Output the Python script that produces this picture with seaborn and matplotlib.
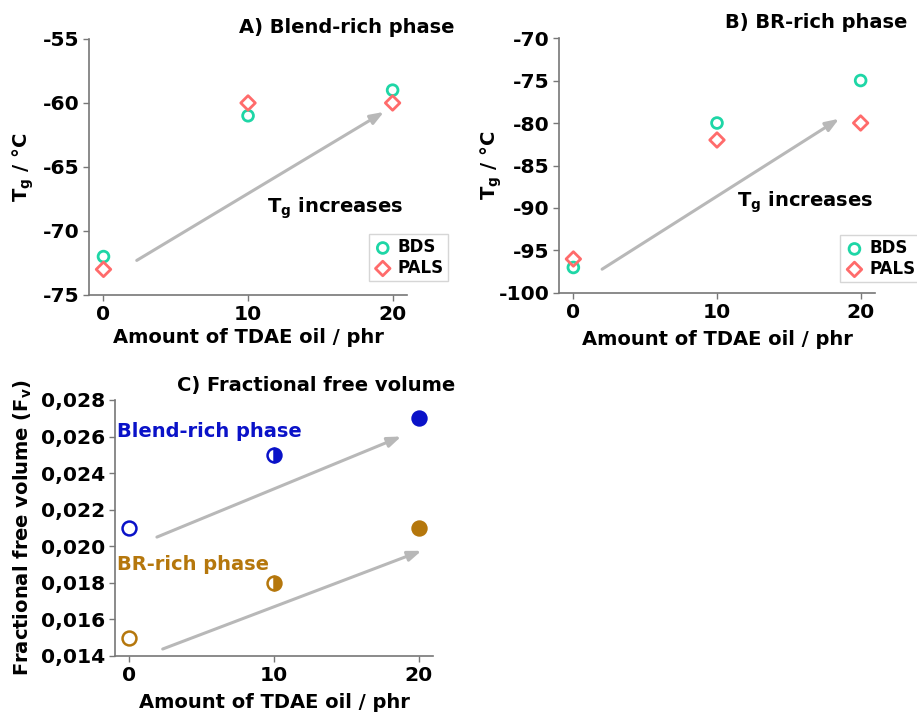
import numpy as np
import pandas as pd
import matplotlib
matplotlib.use("Agg")
import matplotlib.pyplot as plt
from matplotlib.ticker import FuncFormatter
import seaborn as sns

# ---- data -------------------------------------------------------------
oil_phr = [0, 10, 20]

# Tg of the blend-rich phase (deg C)
tg_blend_bds = [-72, -61, -59]
tg_blend_pals = [-73, -60, -60]

# Tg of the BR-rich phase (deg C)
tg_br_bds = [-97, -80, -75]
tg_br_pals = [-96, -82, -80]

# Fractional free volume
ffv_blend = [0.021, 0.025, 0.027]
ffv_br = [0.015, 0.018, 0.021]
ffv_fill = ["none", "right", "full"]

# trend arrows (tail -> head, data coordinates)
arrow_a = [(2.3, -72.3), (19.4, -60.7)]
arrow_b = [(2.0, -97.2), (18.5, -79.5)]
arrow_c_blend = [(1.9, 0.0205), (18.8, 0.0260)]
arrow_c_br = [(2.3, 0.01438), (20.2, 0.01975)]

# ---- style ------------------------------------------------------------
sns.set_style("ticks")
plt.rcParams["font.family"] = ["DejaVu Sans"]
plt.rcParams["font.weight"] = "bold"
plt.rcParams["axes.labelweight"] = "bold"
plt.rcParams["axes.unicode_minus"] = False
plt.rcParams["text.color"] = "black"
plt.rcParams["axes.labelcolor"] = "black"
plt.rcParams["xtick.labelcolor"] = "black"
plt.rcParams["ytick.labelcolor"] = "black"
plt.rcParams["mathtext.fontset"] = "custom"
plt.rcParams["mathtext.bf"] = "DejaVu Sans:bold"
plt.rcParams["mathtext.rm"] = "DejaVu Sans:bold"

C_BDS = "#1ed6a6"
C_PALS = "#ff6b6b"
C_BLUE = "#0a12c8"
C_BROWN = "#b5770c"
C_SPINE = "#777777"
C_ARROW = "#b8b8b8"
TICK_FS = 14.6
LABEL_FS = 14

fig = plt.figure(figsize=(9.17, 7.12), dpi=100)
ax_a = fig.add_axes([0.0971, 0.5857, 0.3468, 0.3596])
ax_b = fig.add_axes([0.6096, 0.5885, 0.3446, 0.3581])
ax_c = fig.add_axes([0.1254, 0.0787, 0.3468, 0.3596])


def style_axes(ax):
    sns.despine(ax=ax)
    for side in ("left", "bottom"):
        ax.spines[side].set_color(C_SPINE)
        ax.spines[side].set_linewidth(1.2)
    ax.tick_params(axis="both", direction="out", length=4, width=1,
                   color=C_SPINE, labelcolor="black", labelsize=TICK_FS, pad=3)
    for lab in ax.get_xticklabels() + ax.get_yticklabels():
        lab.set_fontweight("bold")
    ax.set_xlim(-1, 21)
    ax.set_xticks(oil_phr)


def arrow(ax, pts):
    ax.annotate("", xy=pts[1], xytext=pts[0],
                arrowprops=dict(arrowstyle="-|>,head_length=0.8,head_width=0.3",
                                color=C_ARROW, lw=2.2, shrinkA=0, shrinkB=0))


def tg_panel(ax, bds, pals, ylim, yticks, title, title_xy, legend_xy, ylab_y):
    df = pd.DataFrame({"oil": oil_phr * 2, "tg": bds + pals,
                       "method": ["BDS"] * 3 + ["PALS"] * 3})
    for method, marker, color, size in (("BDS", "o", C_BDS, 60),
                                        ("PALS", "D", C_PALS, 55)):
        sub = df[df["method"] == method]
        sns.scatterplot(data=sub, x="oil", y="tg", ax=ax, marker=marker,
                        s=size, facecolor="none", edgecolor=color,
                        color=color, linewidth=2.0, label=method, zorder=3)
    ax.set_ylim(*ylim)
    ax.set_yticks(yticks)
    style_axes(ax)
    ax.set_xlabel("Amount of TDAE oil / phr", fontsize=LABEL_FS,
                  fontweight="bold", va="center")
    ax.set_ylabel(r"T$_\mathbf{g}$ / °C", fontsize=LABEL_FS,
                  fontweight="bold", va="center")
    ax.yaxis.set_label_coords(ylab_y, 0.5)
    fig.text(title_xy[0], title_xy[1], title, ha="right", va="center",
             fontsize=LABEL_FS, fontweight="bold")
    leg = ax.legend(loc="lower right", bbox_to_anchor=legend_xy,
                    bbox_transform=fig.transFigure, borderaxespad=0,
                    frameon=True, fancybox=False, framealpha=1,
                    edgecolor="#d6d6d6", prop={"weight": "bold", "size": 12},
                    handletextpad=0.3, borderpad=0.25, labelspacing=0.15,
                    handlelength=1.2)
    leg.get_frame().set_linewidth(1.0)


tg_panel(ax_a, tg_blend_bds, tg_blend_pals, (-75, -55), [-75, -70, -65, -60, -55],
         "A) Blend-rich phase", (0.496, 0.962), (0.4886, 0.6053), -0.208)
ax_a.xaxis.set_label_coords(0.5, -0.168)
arrow(ax_a, arrow_a)
ax_a.text(11.3, -68.2, r"T$_\mathbf{g}$ increases", fontsize=LABEL_FS,
          fontweight="bold", va="center", ha="left")

tg_panel(ax_b, tg_br_bds, tg_br_pals, (-100, -70), [-100, -95, -90, -85, -80, -75, -70],
         "B) BR-rich phase", (0.990, 0.969), (1.003, 0.604), -0.215)
ax_b.xaxis.set_label_coords(0.5, -0.184)
arrow(ax_b, arrow_b)
ax_b.text(11.4, -89.3, r"T$_\mathbf{g}$ increases", fontsize=LABEL_FS,
          fontweight="bold", va="center", ha="left")

# ---- panel C: fractional free volume ----------------------------------
for values, color in ((ffv_blend, C_BLUE), (ffv_br, C_BROWN)):
    for x, y, fill in zip(oil_phr, values, ffv_fill):
        pt = pd.DataFrame({"oil": [x], "ffv": [y]})
        sns.lineplot(data=pt, x="oil", y="ffv", ax=ax_c, estimator=None,
                     errorbar=None, linestyle="", marker="o", markersize=10,
                     fillstyle=fill, markerfacecolor=color,
                     markerfacecoloralt="white", markeredgecolor=color,
                     markeredgewidth=1.8, zorder=3)

ax_c.set_ylim(0.014, 0.028)
ax_c.set_yticks(np.arange(0.014, 0.0281, 0.002))
ax_c.yaxis.set_major_formatter(FuncFormatter(lambda v, _: f"{v:.3f}".replace(".", ",")))
style_axes(ax_c)
ax_c.set_xlabel("Amount of TDAE oil / phr", fontsize=LABEL_FS,
                fontweight="bold", va="center")
ax_c.xaxis.set_label_coords(0.5, -0.18)
ax_c.set_ylabel(r"Fractional free volume (F$_\mathbf{v}$)", fontsize=LABEL_FS,
                fontweight="bold", va="center")
ax_c.yaxis.set_label_coords(-0.29, 0.5)
arrow(ax_c, arrow_c_blend)
arrow(ax_c, arrow_c_br)
ax_c.text(-0.85, 0.0263, "Blend-rich phase", color=C_BLUE, fontsize=LABEL_FS,
          fontweight="bold", va="center", ha="left")
ax_c.text(-0.85, 0.0190, "BR-rich phase", color=C_BROWN, fontsize=LABEL_FS,
          fontweight="bold", va="center", ha="left")
fig.text(0.496, 0.458, "C) Fractional free volume", ha="right", va="center",
         fontsize=LABEL_FS, fontweight="bold")

fig.savefig("out.png", dpi=100, facecolor="white")
